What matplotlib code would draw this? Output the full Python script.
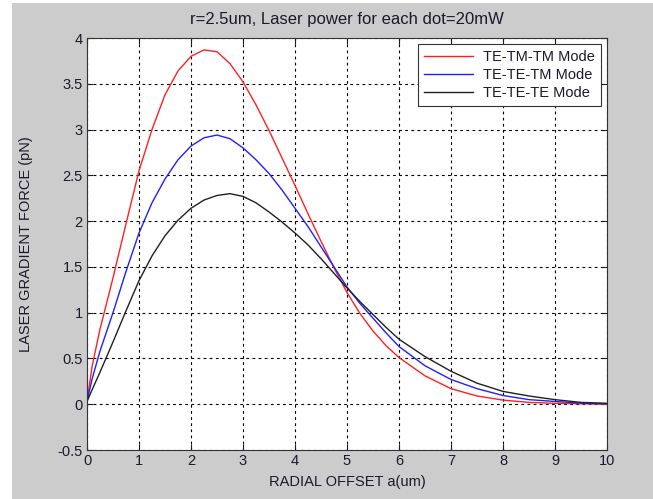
import numpy as np
import matplotlib
matplotlib.use('Agg')
import matplotlib.pyplot as plt
from matplotlib.patches import Rectangle

plt.rcParams['font.family'] = ['Liberation Sans', 'DejaVu Sans']

# radial offset samples (um)
x_red = [0, 0.1, 0.25, 0.5, 0.75, 1.0, 1.25, 1.5, 1.75, 2.0, 2.25, 2.5, 2.75, 3.0,
         3.25, 3.5, 3.75, 4.0, 4.25, 4.5, 4.75, 5.0, 5.25, 5.5, 5.75, 6.0, 6.5,
         7.0, 7.5, 8.0, 8.5, 9.0, 9.5, 10.0]
te_tm_tm = [0.03, 0.42, 0.82, 1.38, 1.97, 2.55, 3.0, 3.38, 3.64, 3.8, 3.87, 3.85,
            3.72, 3.52, 3.27, 2.99, 2.69, 2.39, 2.08, 1.78, 1.49, 1.22, 0.99, 0.80,
            0.64, 0.51, 0.31, 0.17, 0.09, 0.045, 0.02, 0.01, 0.005, 0.0]

x_blue = x_red
te_te_tm = [0.03, 0.28, 0.58, 1.0, 1.45, 1.87, 2.2, 2.46, 2.67, 2.82, 2.91, 2.94,
            2.90, 2.80, 2.67, 2.52, 2.34, 2.14, 1.94, 1.72, 1.50, 1.28, 1.10, 0.94,
            0.78, 0.63, 0.42, 0.27, 0.17, 0.095, 0.05, 0.03, 0.012, 0.005]

x_black = x_red
te_te_te = [0.03, 0.16, 0.35, 0.68, 1.02, 1.35, 1.62, 1.84, 2.01, 2.14, 2.23, 2.28,
            2.30, 2.27, 2.20, 2.10, 1.99, 1.87, 1.74, 1.59, 1.43, 1.27, 1.12, 0.98,
            0.84, 0.71, 0.52, 0.36, 0.23, 0.14, 0.09, 0.05, 0.02, 0.01]

fig = plt.figure(figsize=(6.53, 4.99), dpi=100, facecolor='white')
fig.patches.append(Rectangle((12/653, 0), 1, 1 - 3/499, transform=fig.transFigure,
                             facecolor='#cccccc', edgecolor='none', zorder=-10))

ax = fig.add_axes([87/653, 1 - 450/499, 520/653, 412/499])
ax.set_facecolor('white')

ax.plot(x_red, te_tm_tm, color='#ff2020', lw=1.0, label='TE-TM-TM Mode')
ax.plot(x_blue, te_te_tm, color='#2020ff', lw=1.0, label='TE-TE-TM Mode')
ax.plot(x_black, te_te_te, color='#202020', lw=1.0, label='TE-TE-TE Mode')

ax.set_xlim(0, 10)
ax.set_ylim(-0.5, 4)
ax.set_xticks(np.arange(0, 11, 1))
ax.set_yticks(np.arange(-0.5, 4.01, 0.5))
ax.set_yticklabels(['-0.5', '0', '0.5', '1', '1.5', '2', '2.5', '3', '3.5', '4'])
ax.grid(True, color='black', linestyle=(0, (2.5, 3)), lw=0.8)
ax.tick_params(direction='in', top=True, right=True, length=4, labelsize=10.5,
               colors='#1a1a2a', pad=3)
for s in ax.spines.values():
    s.set_color('#333333')
    s.set_linewidth(0.8)

ax.set_title('r=2.5um, Laser power for each dot=20mW', fontsize=12, color='#1a1a2a', pad=10)
ax.set_xlabel('RADIAL OFFSET a(um)', fontsize=10.5, color='#1a1a2a', labelpad=5)
ax.set_ylabel('LASER GRADIENT FORCE (pN)', fontsize=10.5, color='#1a1a2a', labelpad=18)

leg = ax.legend(loc='upper right', fontsize=10.5, frameon=True, fancybox=False,
                edgecolor='#333333', framealpha=1, borderaxespad=0.4,
                handlelength=3.4, labelspacing=0.3, borderpad=0.4, handletextpad=0.7)
leg.get_frame().set_linewidth(0.8)
for t in leg.get_texts():
    t.set_color('#1a1a2a')

fig.savefig('out.png', dpi=100, facecolor=fig.get_facecolor())
